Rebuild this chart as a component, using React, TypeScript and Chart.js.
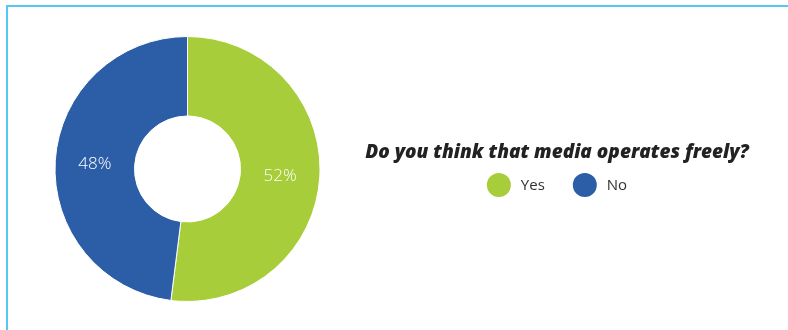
import React, { useEffect, useRef } from "react";
import { Chart, registerables } from "chart.js";

Chart.register(...registerables);

const categories = ["Yes", "No"];
const values = [52, 48];
const colors = ["#a8cd3a", "#2c5ea8"];
const title = "Do you think that media operates freely?";

const overlayPlugin = {
  id: "overlay",
  afterDatasetsDraw(chart: any) {
    const ctx = chart.ctx;
    const meta = chart.getDatasetMeta(0);
    const data = chart.data.datasets[0].data as number[];
    const total = data.reduce((a, b) => a + b, 0);
    ctx.save();
    ctx.fillStyle = "#ffffff";
    ctx.font = "300 17px 'Open Sans', sans-serif";
    ctx.textAlign = "center";
    ctx.textBaseline = "middle";
    meta.data.forEach((arc: any, i: number) => {
      const p = arc.tooltipPosition();
      ctx.fillText(Math.round((data[i] / total) * 100) + "%", p.x, p.y + 1);
    });
    ctx.restore();
  },
  afterDraw(chart: any) {
    const ctx = chart.ctx;
    const cx = 557;
    ctx.save();
    ctx.fillStyle = "#222222";
    ctx.font = "italic 800 19px 'Open Sans', sans-serif";
    ctx.textAlign = "center";
    ctx.textBaseline = "middle";
    ctx.fillText(title, cx, 153);

    ctx.font = "15px 'Open Sans', sans-serif";
    const r = 12;
    const gapText = 10;
    const gapItem = 28;
    const labels = chart.data.labels as string[];
    const bg = chart.data.datasets[0].backgroundColor as string[];
    const widths = labels.map((l) => ctx.measureText(l).width);
    let total = 0;
    widths.forEach((w, i) => {
      total += 2 * r + gapText + w + (i < widths.length - 1 ? gapItem : 0);
    });
    let x = cx - total / 2;
    const y = 185;
    ctx.textAlign = "left";
    labels.forEach((l, i) => {
      ctx.fillStyle = bg[i];
      ctx.beginPath();
      ctx.arc(x + r, y, r, 0, Math.PI * 2);
      ctx.fill();
      ctx.fillStyle = "#333333";
      ctx.fillText(l, x + 2 * r + gapText, y + 1);
      x += 2 * r + gapText + widths[i] + gapItem;
    });
    ctx.restore();
  },
};

export default function App() {
  const ref = useRef<HTMLCanvasElement>(null);
  useEffect(() => {
    if (!ref.current) return;
    const chart = new Chart(ref.current, {
      type: "doughnut",
      data: {
        labels: categories,
        datasets: [
          {
            data: values,
            backgroundColor: colors,
            borderColor: "#ffffff",
            borderWidth: 1,
          },
        ],
      },
      options: {
        animation: false,
        responsive: false,
        cutout: "40%",
        layout: { padding: { left: 54, right: 467, top: 36, bottom: 28 } },
        plugins: {
          legend: { display: false },
          tooltip: { enabled: false },
        },
      },
      plugins: [overlayPlugin],
    });
    return () => chart.destroy();
  }, []);

  return (
    <div style={{ position: "absolute", left: 0, top: 0, width: 788, height: 330, background: "#fff", overflow: "hidden" }}>
      <div
        style={{
          position: "absolute",
          left: 6,
          top: 5,
          width: 790,
          height: 330,
          borderTop: "2px solid #55c8f2",
          borderLeft: "2px solid #55c8f2",
        }}
      />
      <canvas ref={ref} width={788} height={330} style={{ position: "absolute", left: 0, top: 0 }} />
    </div>
  );
}
